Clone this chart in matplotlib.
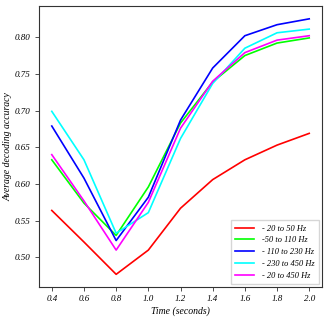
import matplotlib
matplotlib.use("Agg")
import matplotlib.pyplot as plt

time = [0.4, 0.6, 0.8, 1.0, 1.2, 1.4, 1.6, 1.8, 2.0]
band_20_50 = [0.564, 0.521, 0.477, 0.510, 0.567, 0.606, 0.633, 0.653, 0.669]
band_50_110 = [0.633, 0.574, 0.530, 0.596, 0.683, 0.739, 0.775, 0.792, 0.799]
band_110_230 = [0.679, 0.608, 0.523, 0.582, 0.687, 0.758, 0.802, 0.817, 0.825]
band_230_450 = [0.699, 0.633, 0.533, 0.561, 0.662, 0.737, 0.785, 0.806, 0.811]
band_20_450 = [0.640, 0.577, 0.510, 0.575, 0.676, 0.740, 0.779, 0.796, 0.802]

labels = ["- 20 to 50 Hz", "-50 to 110 Hz", "- 110 to 230 Hz", "- 230 to 450 Hz", "- 20 to 450 Hz"]
colors = ["#ff0000", "#00ff00", "#0000ff", "#00ffff", "#ff00ff"]
series = [band_20_50, band_50_110, band_110_230, band_230_450, band_20_450]

plt.rcParams['font.family'] = ['Liberation Serif', 'DejaVu Serif']
plt.rcParams['font.style'] = 'italic'

fig = plt.figure(figsize=(3.27, 3.19), dpi=100)
ax = fig.add_axes([0.119, 0.100, 0.866, 0.881])
for s, c, l in zip(series, colors, labels):
    ax.plot(time, s, color=c, label=l, linewidth=1.2)

ax.set_xticks([0.4, 0.6, 0.8, 1.0, 1.2, 1.4, 1.6, 1.8, 2.0])
ax.set_yticks([0.50, 0.55, 0.60, 0.65, 0.70, 0.75, 0.80])
ax.tick_params(labelsize=6.5, length=3, width=0.6, color='#333333', pad=3)
for lab in ax.get_xticklabels() + ax.get_yticklabels():
    lab.set_fontstyle('italic')
for sp in ax.spines.values():
    sp.set_color('#333333')
    sp.set_linewidth(0.8)
ax.set_xlabel("Time (seconds)", fontsize=7, style='italic', labelpad=2)
ax.set_ylabel("Average decoding accuracy", fontsize=7, style='italic', labelpad=2)
leg = ax.legend(loc='lower right', prop={'style': 'italic', 'size': 6}, handlelength=2.2,
                handletextpad=1.0, borderpad=0.5, labelspacing=0.45, fancybox=False,
                edgecolor='#cccccc', borderaxespad=0.4)
fig.savefig("out.png", dpi=100)
